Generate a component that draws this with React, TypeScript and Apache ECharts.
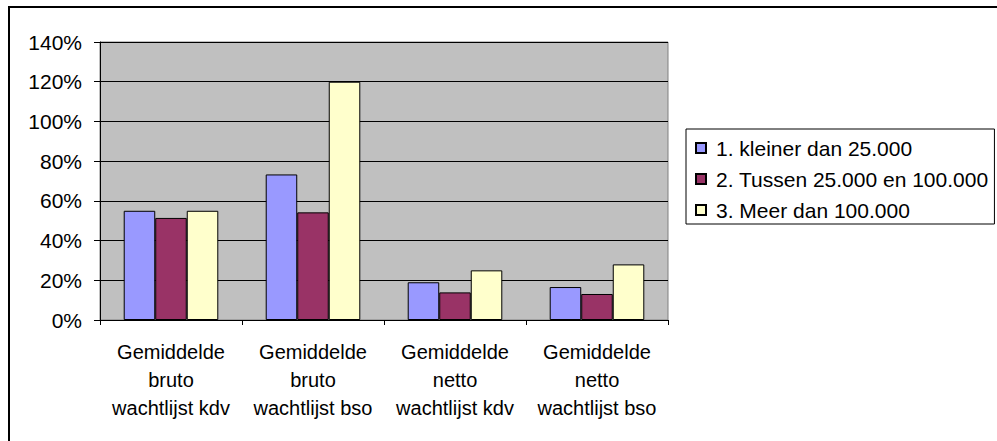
import React, { useEffect, useRef } from "react";
import * as echarts from "echarts";

const categories = [
  "Gemiddelde\nbruto\nwachtlijst kdv",
  "Gemiddelde\nbruto\nwachtlijst bso",
  "Gemiddelde\nnetto\nwachtlijst kdv",
  "Gemiddelde\nnetto\nwachtlijst bso",
];
const seriesNames = [
  "1. kleiner dan 25.000",
  "2. Tussen 25.000 en 100.000",
  "3. Meer dan 100.000",
];
const kleiner = [55, 73.3, 19, 16.6];
const tussen = [51.4, 54.2, 13.9, 13.1];
const meer = [55, 120, 25, 28];
const colors = ["#9999FF", "#993366", "#FFFFCC"];
const yTicks = { min: 0, max: 140, interval: 20 };

const FONT = "'Liberation Sans', Arial, sans-serif";

export default function App() {
  const ref = useRef<HTMLDivElement>(null);
  useEffect(() => {
    if (!ref.current) return;
    const chart = echarts.init(ref.current, null, { renderer: "svg" });
    const data = [kleiner, tussen, meer];
    chart.setOption({
      animation: false,
      backgroundColor: "#ffffff",
      textStyle: { fontFamily: FONT },
      grid: {
        left: 100,
        top: 42,
        width: 568,
        height: 278,
        show: true,
        backgroundColor: "#C0C0C0",
        borderColor: "#808080",
        borderWidth: 1,
      },
      legend: {
        orient: "vertical",
        left: 686,
        top: 129,
        padding: [8, 6, 3, 9],
        itemGap: 9,
        itemWidth: 10,
        itemHeight: 10,
        icon: "rect",
        borderColor: "#000",
        borderWidth: 1,
        backgroundColor: "#fff",
        textStyle: {
          fontFamily: FONT,
          fontSize: 21,
          color: "#000",
          lineHeight: 22,
          padding: [0, 0, 0, 5],
        },
        data: seriesNames,
      },
      xAxis: {
        type: "category",
        data: categories,
        boundaryGap: true,
        axisLine: { lineStyle: { color: "#000", width: 1 } },
        axisTick: { show: true, length: 5, lineStyle: { color: "#000" } },
        axisLabel: {
          interval: 0,
          margin: 18,
          fontFamily: FONT,
          fontSize: 20,
          lineHeight: 28,
          color: "#000",
          align: "center",
        },
      },
      yAxis: {
        type: "value",
        min: yTicks.min,
        max: yTicks.max,
        interval: yTicks.interval,
        axisLine: { show: true, lineStyle: { color: "#000", width: 1 } },
        axisTick: { show: true, length: 6, lineStyle: { color: "#000" } },
        splitLine: { show: true, lineStyle: { color: "#000", width: 1 } },
        axisLabel: {
          formatter: "{value}%",
          margin: 18,
          fontFamily: FONT,
          fontSize: 21,
          color: "#000",
        },
      },
      series: seriesNames.map((name, i) => ({
        name,
        type: "bar",
        data: data[i],
        barGap: "0%",
        barCategoryGap: "33.4%",
        itemStyle: { color: colors[i], borderColor: "#000", borderWidth: 1 },
      })),
      graphic: [
        {
          type: "line",
          shape: { x1: 8, y1: 7, x2: 997, y2: 7 },
          style: { stroke: "#000", lineWidth: 2 },
        },
        {
          type: "line",
          shape: { x1: 9, y1: 6, x2: 9, y2: 441 },
          style: { stroke: "#000", lineWidth: 2 },
        },
      ],
    });
    return () => chart.dispose();
  }, []);
  return (
    <div
      ref={ref}
      style={{ position: "absolute", left: 0, top: 0, width: 997, height: 441 }}
    />
  );
}
